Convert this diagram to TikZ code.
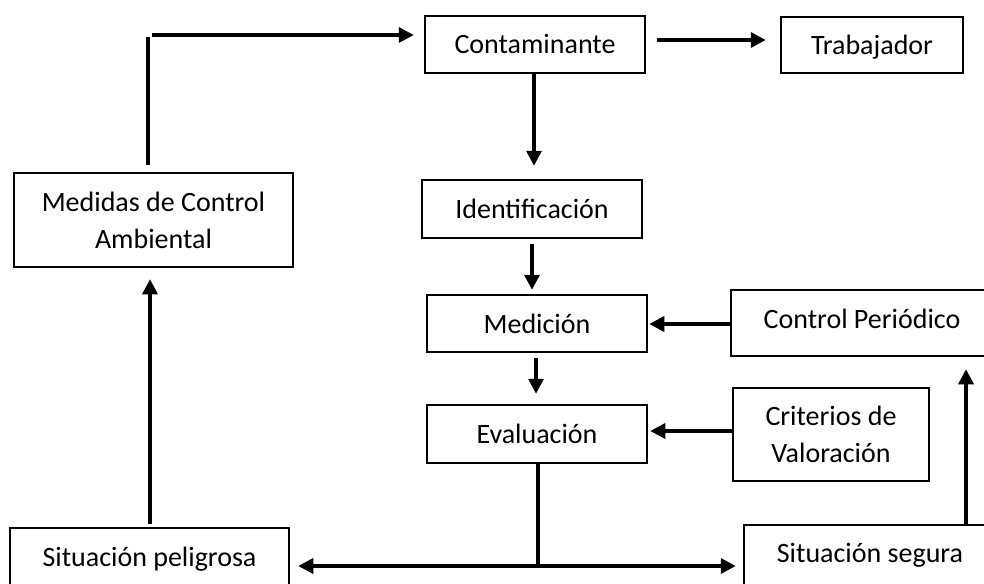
\documentclass[tikz,border=0pt]{standalone}
\usepackage{fontspec}
\setmainfont{Carlito}
\usetikzlibrary{arrows.meta,calc}
\begin{document}
\begin{tikzpicture}[x=1pt,y=-1pt,
  box/.style={draw,line width=2.5pt,rectangle,inner sep=0pt,align=center,
    font=\fontsize{28}{37}\selectfont},
  single/.style={text height=20pt,text depth=1pt},
  arr/.style={line width=3.4pt,-{Triangle[length=15pt,width=15pt]}},
  plain/.style={line width=3.4pt}]
\useasboundingbox (0,0) rectangle (984,583);
\fill[white] (0,0) rectangle (984,583);
\node[box,single,minimum width=220pt,minimum height=57pt] (cont) at (535,44.5) {Contaminante};
\node[box,single,minimum width=182pt,minimum height=56pt] (trab) at (872,45) {Trabajador};
\node[box,single,minimum width=220pt,minimum height=58pt] (ident) at (532,209) {Identificación};
\node[box,single,minimum width=220pt,minimum height=57pt] (medic) at (537,323.5) {Medición};
\node[box,single,text depth=10pt,minimum width=262pt,minimum height=66pt] (ctrl) at (862,323) {Control Periódico};
\node[box,single,minimum width=220pt,minimum height=58pt] (eval) at (537,434) {Evaluación};
\node[box,minimum width=196pt,minimum height=93pt] (crit) at (831,434.5) {Criterios de\\Valoración};
\node[box,minimum width=279pt,minimum height=94pt] (medidas) at (153.5,220) {Medidas de Control\\Ambiental};
\node[box,single,text depth=4pt,minimum width=279pt,minimum height=60pt] (pelig) at (149.5,558) {Situación peligrosa};
\node[box,single,text depth=5pt,minimum width=252pt,minimum height=60pt] (segura) at (870,555) {Situación segura};
\coordinate (lx) at (148,0);
\coordinate (ty) at (0,35);
\coordinate (sx) at (966,0);
\coordinate (j) at (538,566);
% Medidas -> Contaminante
\draw[plain] (medidas.north -| lx) ++(0,-7) -- ($(lx |- ty)+(0,2)$);
\draw[arr,shorten >=10pt] ($(lx |- ty)+(4,0)$) -- (cont.west |- ty);
% Contaminante -> Trabajador
\draw[arr,shorten <=11pt,shorten >=14pt] ([yshift=4.5pt]cont.east) -- ([yshift=4.5pt]cont.east -| trab.west);
% Contaminante -> Identificacion
\draw[arr,shorten >=13pt] (cont.south -| 534,0) -- (ident.north -| 534,0);
% Identificacion -> Medicion
\draw[arr,shorten <=5pt,shorten >=4pt] (ident.south -| 532,0) -- (medic.north -| 532,0);
% Control -> Medicion
\draw[arr,shorten >=1pt] (ctrl.west |- 0,324) -- (medic.east |- 0,324);
% Medicion -> Evaluacion
\draw[arr,shorten <=5pt,shorten >=10pt] (medic.south -| 536,0) -- (eval.north -| 536,0);
% Criterios -> Evaluacion
\draw[arr,shorten >=2pt] (crit.west |- 0,431) -- (eval.east |- 0,431);
% Evaluacion -> branches
\draw[plain] (eval.south -| j) -- (j);
\draw[arr,shorten >=8pt] ($(j)+(1.7,0)$) -- (j -| pelig.east);
\draw[arr,shorten >=7pt] ($(j)+(-1.7,0)$) -- (j -| segura.west);
% Peligrosa -> Medidas
\draw[arr,shorten <=3pt,shorten >=11pt] (pelig.north -| 150,0) -- (medidas.south -| 150,0);
% Segura -> Control
\draw[arr,shorten >=12pt] (segura.north -| sx) -- (ctrl.south -| sx);
\end{tikzpicture}
\end{document}
